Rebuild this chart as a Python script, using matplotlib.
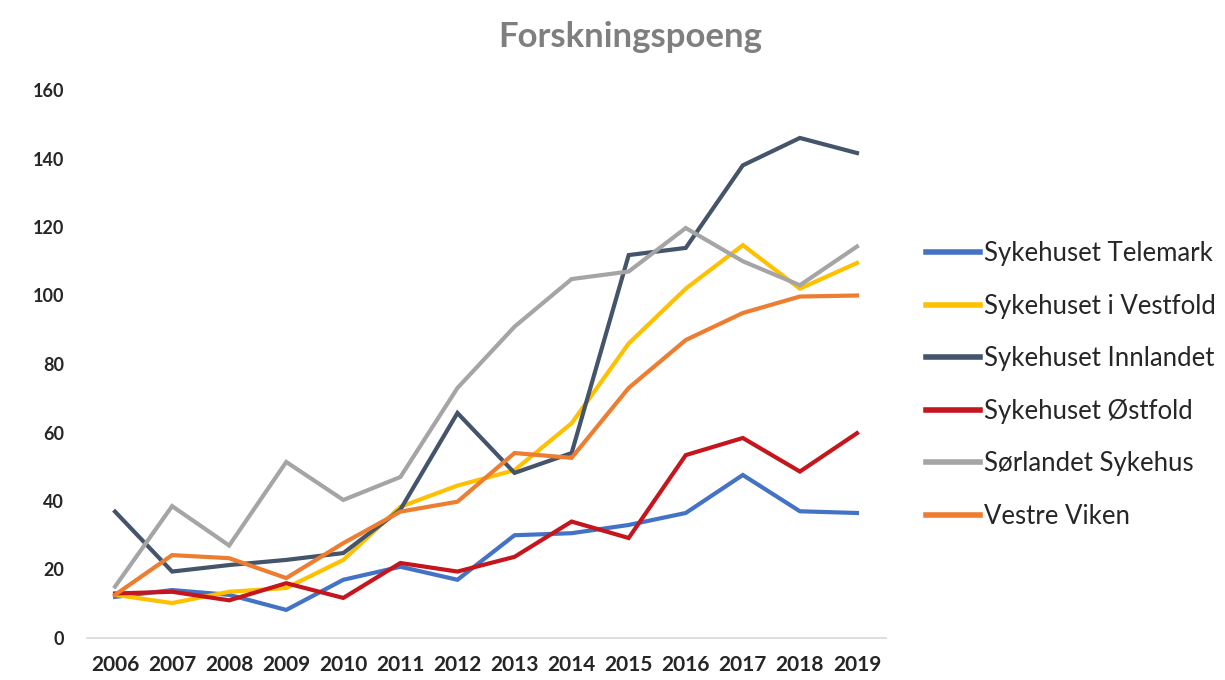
import matplotlib
matplotlib.use("Agg")
import matplotlib.pyplot as plt

years = [2006, 2007, 2008, 2009, 2010, 2011, 2012, 2013, 2014, 2015, 2016, 2017, 2018, 2019]

telemark = [12, 14, 12.6, 8.2, 17, 20.8, 17, 30, 30.6, 33, 36.5, 47.6, 37, 36.5]
vestfold = [12.6, 10.2, 13.5, 14.6, 22.8, 38.3, 44.5, 49, 62.7, 86, 102, 114.7, 102, 109.5]
innlandet = [36.9, 19.4, 21.3, 22.8, 24.8, 37.5, 65.7, 48.2, 54, 111.8, 113.9, 138, 146, 141.6]
ostfold = [13, 13.5, 11, 16, 11.7, 21.9, 19.4, 23.7, 34, 29.2, 53.4, 58.4, 48.6, 59.8]
sorlandet = [15, 38.5, 27, 51.4, 40.3, 47, 73, 90.9, 104.8, 107, 119.7, 110, 103, 114.3]
vestre_viken = [12.6, 24.2, 23.3, 17.5, 27.7, 36.9, 39.8, 54, 52.6, 73, 87, 94.9, 99.7, 100]

series_names = ["Sykehuset Telemark", "Sykehuset i Vestfold", "Sykehuset Innlandet",
                "Sykehuset Østfold", "Sørlandet Sykehus", "Vestre Viken"]
series_values = [telemark, vestfold, innlandet, ostfold, sorlandet, vestre_viken]
colors = ["#4472C4", "#FFC000", "#44546A", "#C5161D", "#A5A5A5", "#ED7D31"]

plt.rcParams['font.family'] = ['Lato', 'DejaVu Sans']

fig = plt.figure(figsize=(12.25, 6.8), dpi=100)
ax = fig.add_axes([86.5/1225, 42/680, (885.5-86.5)/1225, (638-90)/680])

for name, vals, c in zip(series_names, series_values, colors):
    ax.plot(years, vals, color=c, lw=3.0, label=name, solid_joinstyle='miter')

ax.set_xlim(2005.5, 2019.5)
ax.set_ylim(0, 160)
ax.set_xticks(years)
ax.set_xticklabels([str(y) for y in years], fontsize=15, fontweight='bold', color='#262626')
ax.set_yticks(range(0, 161, 20))
ax.set_yticklabels([str(v) for v in range(0, 161, 20)], fontsize=13, fontweight='bold', color='#262626')
ax.tick_params(axis='both', length=0)
ax.tick_params(axis='y', pad=16)
ax.tick_params(axis='x', pad=12)
for s in ['top', 'right', 'left']:
    ax.spines[s].set_visible(False)
ax.spines['bottom'].set_color('#D9D9D9')
ax.spines['bottom'].set_linewidth(1.2)

fig.text(630/1225, 1 - 37/680, "Forskningspoeng", ha='center', va='center',
         fontsize=25, fontweight='bold', color='#7F7F7F')

leg = fig.legend(loc='upper left', bbox_to_anchor=(916/1225, 1 - 231/680), frameon=False,
                 fontsize=18.5, handlelength=2.1, handletextpad=0.15, labelspacing=1.07,
                 borderaxespad=0)
for t in leg.get_texts():
    t.set_color('#262626')
for l in leg.get_lines():
    l.set_linewidth(4)

fig.savefig("out.png", dpi=100)
